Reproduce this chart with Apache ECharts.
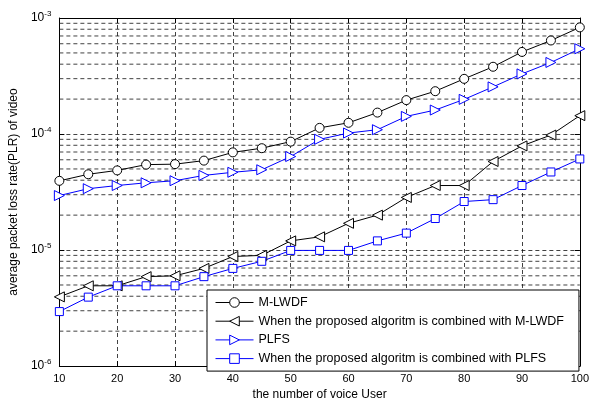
<!DOCTYPE html>
<html>
<head>
<meta charset="utf-8">
<script src="https://cdn.jsdelivr.net/npm/echarts@6/dist/echarts.min.js"></script>
<style>html,body{margin:0;padding:0;background:#fff}#c{width:592px;height:406px}</style>
</head>
<body>
<div id="c"></div>
<script>
var users = [10,15,20,25,30,35,40,45,50,55,60,65,70,75,80,85,90,95,100];
var mlwdf = [3.95e-5,4.5e-5,4.86e-5,5.45e-5,5.5e-5,5.9e-5,6.95e-5,7.55e-5,8.6e-5,1.13e-4,1.25e-4,1.53e-4,1.96e-4,2.34e-4,2.99e-4,3.8e-4,5.1e-4,6.4e-4,8.3e-4];
var propMlwdf = [3.95e-6,4.92e-6,4.92e-6,5.9e-6,6.0e-6,6.95e-6,8.8e-6,9.0e-6,1.2e-5,1.3e-5,1.7e-5,2.0e-5,2.84e-5,3.6e-5,3.6e-5,5.8e-5,7.9e-5,9.8e-5,1.44e-4];
var plfs = [2.95e-5,3.38e-5,3.6e-5,3.8e-5,3.96e-5,4.4e-5,4.68e-5,4.92e-5,6.4e-5,9.0e-5,1.02e-4,1.09e-4,1.42e-4,1.61e-4,1.99e-4,2.55e-4,3.3e-4,4.14e-4,5.43e-4];
var propPlfs = [2.95e-6,3.93e-6,4.92e-6,4.92e-6,4.92e-6,5.9e-6,6.95e-6,8.0e-6,9.93e-6,9.93e-6,9.93e-6,1.2e-5,1.4e-5,1.87e-5,2.62e-5,2.72e-5,3.6e-5,4.71e-5,6.1e-5];
var seriesNames = ['M-LWDF','When the proposed algoritm is combined with M-LWDF','PLFS','When the proposed algoritm is combined with PLFS'];
var xTicks = [10,20,30,40,50,60,70,80,90,100];
var decades = [1e-6,1e-5,1e-4,1e-3];

var minorVals = [];
for (var d = 0; d < decades.length - 1; d++) {
  for (var k = 2; k <= 9; k++) minorVals.push(k * decades[d]);
}
function pairs(ys){ return users.map(function(x,i){ return [x, ys[i]]; }); }

var FONT = 'Liberation Sans, Arial, sans-serif';
function gridDash(){ return {color:'#111', width:0.8, type:[4,3]}; }
var leftTri = 'path://M0,5 L10,0 L10,10 Z';
var rightTri = 'path://M10,5 L0,0 L0,10 Z';

function mkSeries(name, ys, color, symbol, size){
  return {
    name: name, type:'line', data: pairs(ys), z: 3,
    symbol: symbol, symbolSize: size, showAllSymbol: true,
    lineStyle:{color:color, width:1, type:'solid'},
    itemStyle:{color:'#fff', borderColor:color, borderWidth:1},
    emphasis:{disabled:true}, animation:false
  };
}

var chart = echarts.init(document.getElementById('c'), null, {renderer:'canvas'});
chart.setOption({
  animation:false,
  backgroundColor:'#fff',
  grid:{left:54, right:10, top:18, bottom:33, containLabel:false},
  legend:{
    data: seriesNames,
    orient:'vertical', left:207, top:290,
    backgroundColor:'#fff', borderColor:'#000', borderWidth:1,
    padding:[6,15,6,8],
    itemWidth:38, itemHeight:12, itemGap:5.7,
    lineStyle:{width:1},
    itemStyle:{borderWidth:1, color:'#fff'},
    textStyle:{fontFamily:FONT, fontSize:12.5, color:'#000', lineHeight:12},
    selectedMode:false
  },
  xAxis:[{
    type:'value', min:10, max:100, interval:10,
    name:'the number of voice User', nameLocation:'middle', nameGap:18,
    nameTextStyle:{fontFamily:FONT, fontSize:12, color:'#000'},
    axisLine:{onZero:false, lineStyle:{color:'#000', width:1}},
    axisTick:{inside:true, length:5, lineStyle:{color:'#000'}},
    axisLabel:{fontFamily:FONT, fontSize:11, color:'#000', margin:7},
    splitLine:{show:true, lineStyle:gridDash()}
  },{
    type:'value', min:10, max:100, interval:10, position:'top',
    axisLine:{onZero:false, lineStyle:{color:'#000', width:1}},
    axisTick:{inside:true, length:5, lineStyle:{color:'#000'}},
    axisLabel:{show:false}, splitLine:{show:false}
  }],
  yAxis:[{
    type:'log', logBase:10, min:1e-6, max:1e-3,
    name:'average packet loss rate(PLR) of video', nameLocation:'middle', nameGap:37,
    nameTextStyle:{fontFamily:FONT, fontSize:12, color:'#000'},
    axisLine:{lineStyle:{color:'#000', width:1}},
    axisTick:{inside:true, length:5, lineStyle:{color:'#000'}},
    axisLabel:{
      fontFamily:FONT, fontSize:12, color:'#000', margin:8,
      formatter:function(v){ return '10{sup|' + Math.round(Math.log10(v)) + '}'; },
      rich:{sup:{fontFamily:FONT, fontSize:8, verticalAlign:'top', padding:[0,0,8,0], color:'#000'}}
    },
    splitLine:{show:true, lineStyle:gridDash()}
  },{
    type:'log', logBase:10, min:1e-6, max:1e-3, position:'right',
    axisLine:{lineStyle:{color:'#000', width:1}},
    axisTick:{inside:true, length:5, lineStyle:{color:'#000'}},
    axisLabel:{show:false}, splitLine:{show:false}
  }],
  series:[
    {
      name:'minorGrid', type:'custom', z:1, silent:true,
      data: minorVals.map(function(v){ return [v]; }),
      encode:{y:0},
      renderItem:function(params, api){
        var v = api.value(0);
        var p1 = api.coord([10, v]);
        var p2 = api.coord([100, v]);
        return {type:'line', shape:{x1:p1[0], y1:p1[1], x2:p2[0], y2:p2[1]},
          style:{stroke:'#111', lineWidth:0.8, lineDash:[4,3]}};
      }
    },
    mkSeries(seriesNames[0], mlwdf, '#000', 'circle', 9),
    mkSeries(seriesNames[1], propMlwdf, '#000', leftTri, 10),
    mkSeries(seriesNames[2], plfs, '#0000ff', rightTri, 10),
    mkSeries(seriesNames[3], propPlfs, '#0000ff', 'rect', 8)
  ]
});
</script>
</body>
</html>
